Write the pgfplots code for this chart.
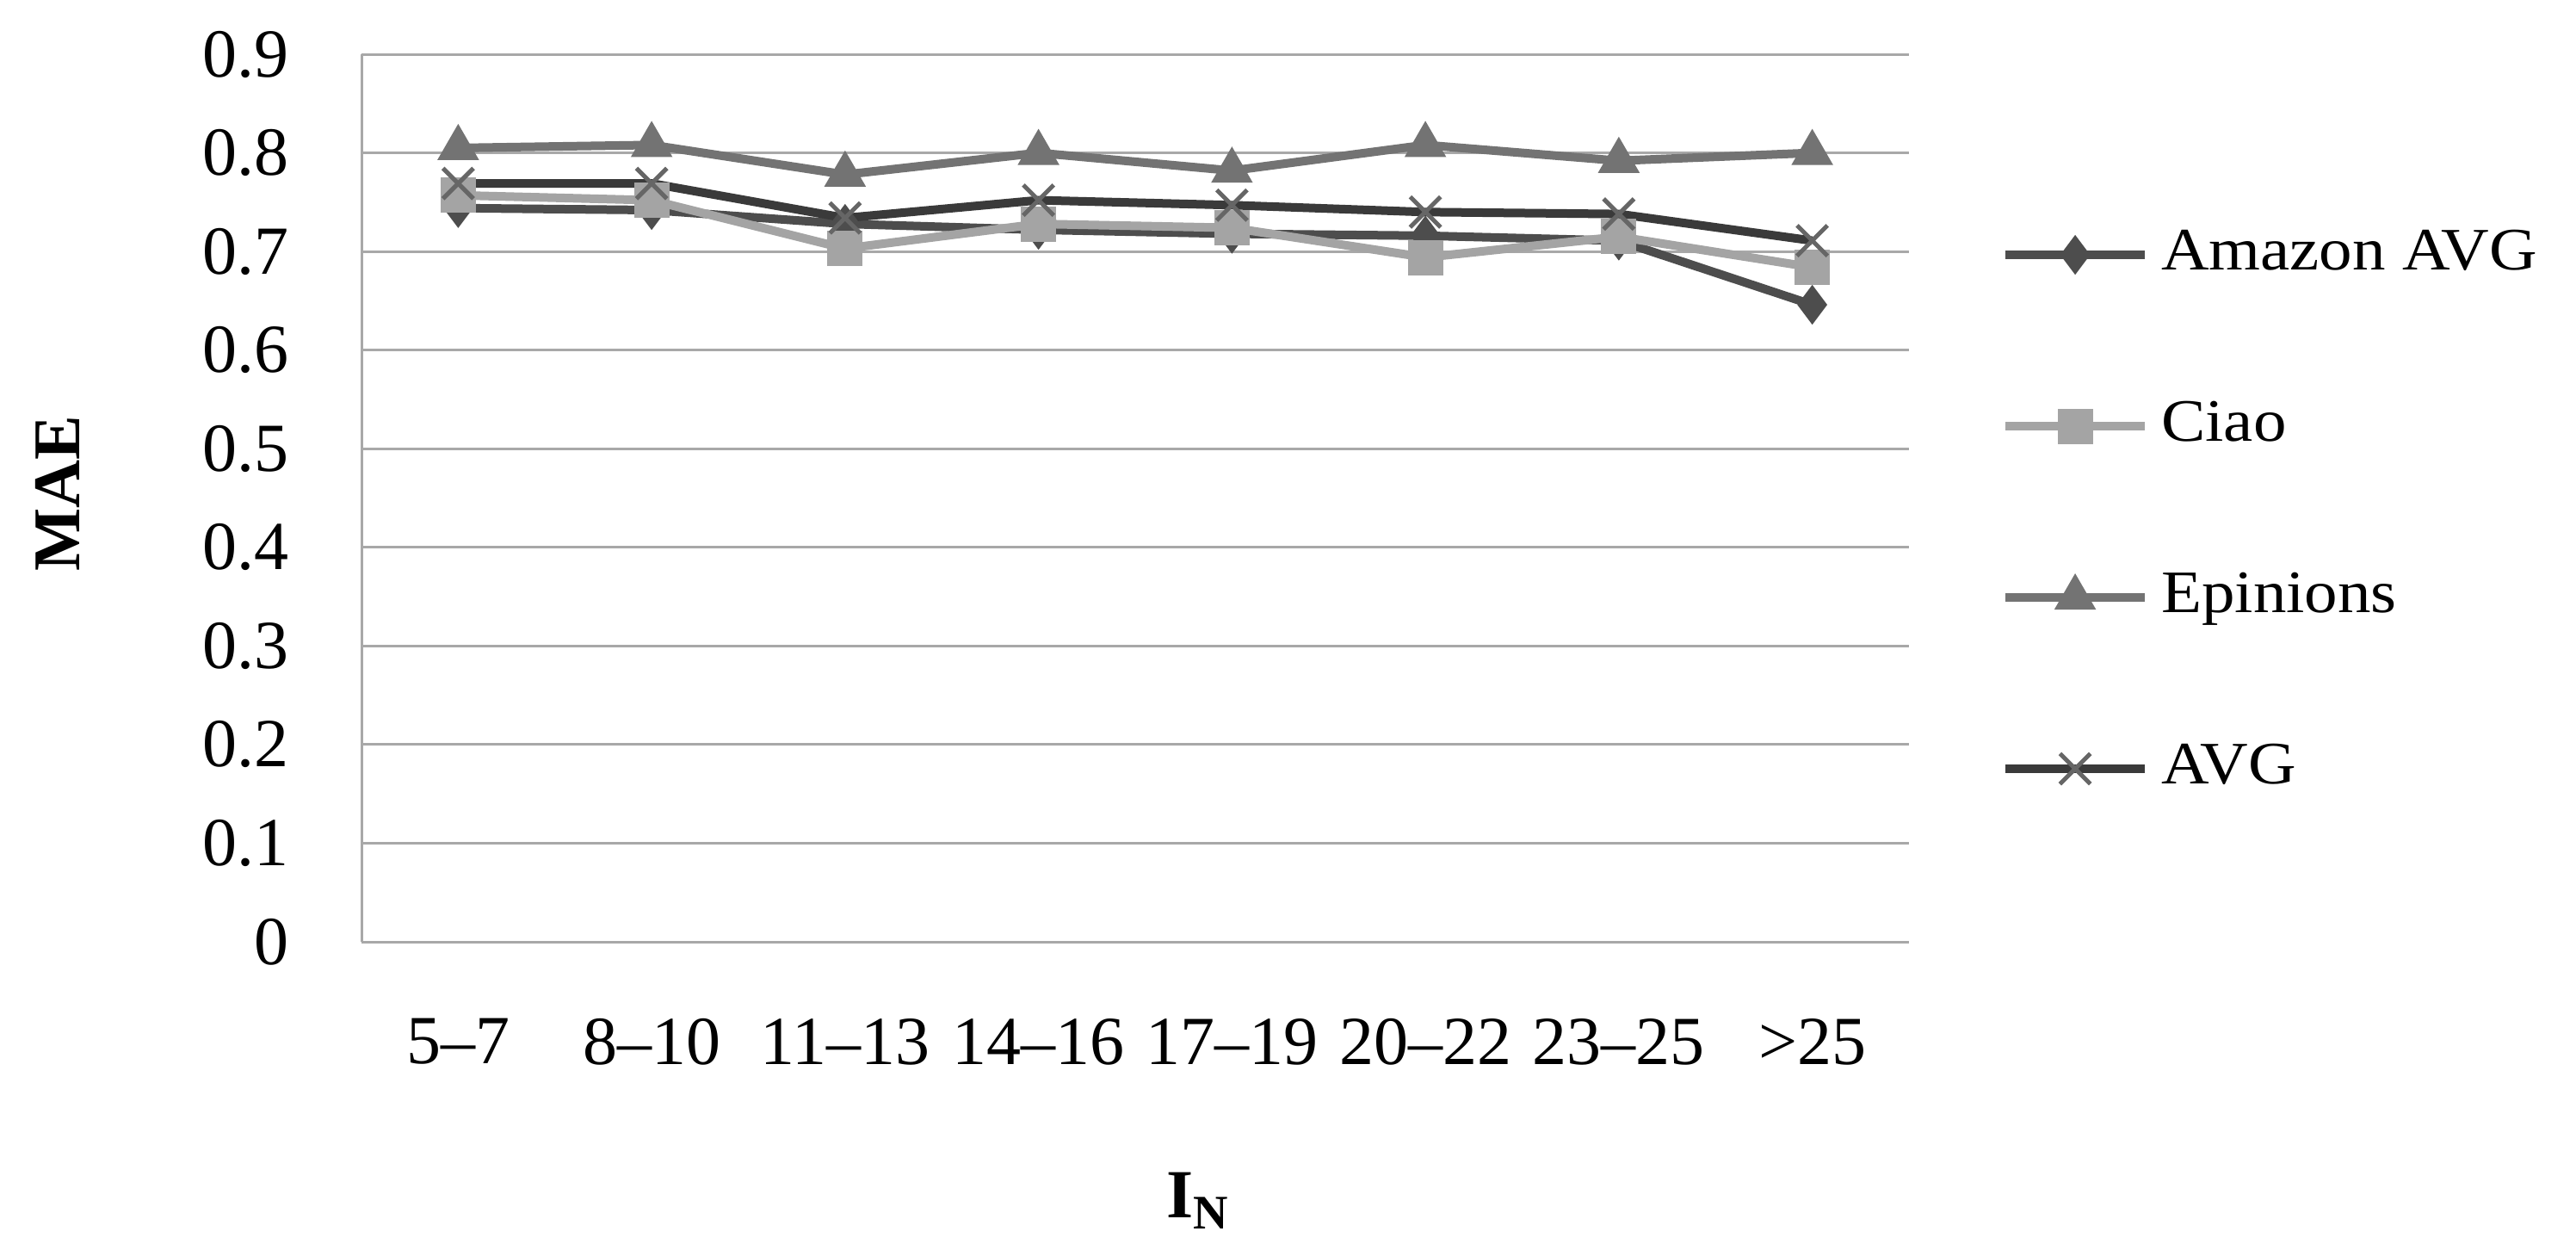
\documentclass[border=0pt]{standalone}
\usepackage{fontspec}
\setmainfont{Liberation Serif}
\newfontfamily\legfont[FakeStretch=1.1]{Liberation Serif}
\usepackage{pgfplots}
\pgfplotsset{compat=1.18}
\definecolor{gridgray}{HTML}{A8A8A8}
\definecolor{amz}{HTML}{4D4D4D}
\definecolor{ciao}{HTML}{A4A4A4}
\definecolor{epi}{HTML}{737373}
\definecolor{avg}{HTML}{3A3A3A}
\definecolor{avgmark}{HTML}{666666}
\begin{document}
\begin{tikzpicture}
\path[use as bounding box] (0pt,0pt) rectangle (598.6pt,-290.2pt);
\begin{axis}[
  at={(84pt,-218.8pt)}, anchor=south west,
  scale only axis, width=359.6pt, height=206.2pt,
  xmin=-0.5, xmax=7.5, ymin=0, ymax=0.9,
  xtick={0,1,2,3,4,5,6,7},
  xticklabels={5–7,8–10,11–13,14–16,17–19,20–22,23–25,>25},
  ytick={0,0.1,0.2,0.3,0.4,0.5,0.6,0.7,0.8,0.9},
  yticklabels={0,0.1,0.2,0.3,0.4,0.5,0.6,0.7,0.8,0.9},
  axis x line*=bottom, axis y line*=left,
  axis line style={gridgray, line width=0.6pt, -},
  ymajorgrids, grid style={gridgray, line width=0.6pt},
  major tick length=0pt, tick style={draw=none},
  tick label style={font=\fontsize{16}{18}\selectfont},
  yticklabel style={anchor=east, inner sep=0pt, xshift=-16.6pt},
  xticklabel style={anchor=north, inner sep=0pt, yshift=-17.6pt},
  xlabel={\textbf{I}\textsubscript{\textbf{N}}},
  xlabel style={at={(axis description cs:0.541,-0.311)}, anchor=base, font=\fontsize{16}{18}\selectfont},
  ylabel={\textbf{MAE}},
  ylabel style={at={(axis description cs:-0.1963,0.505)}, anchor=center, font=\fontsize{15.5}{18}\selectfont},
  clip=false,
  legend style={at={(axis description cs:1.0590,0.8065)}, anchor=north west, draw=none, fill=none,
    inner sep=0pt, row sep=26.8pt, column sep=2.8pt,
    font=\legfont\fontsize{14}{16}\selectfont,
    nodes={inner sep=0pt, text height=10pt, text depth=3pt}},
  legend cell align=left,
  legend image code/.code={\draw[mark repeat=2,mark phase=2] plot coordinates {(0pt,0pt) (16.2pt,0pt) (32.4pt,0pt)};},
]
\addplot[amz, line width=2pt, mark=diamond*, mark size=4.3pt, mark options={solid, line width=0.4pt, fill=amz, draw=amz}]
  coordinates {(0,0.744) (1,0.742) (2,0.728) (3,0.722) (4,0.718) (5,0.716) (6,0.711) (7,0.646)};
\addlegendentry{Amazon AVG}
\addplot[ciao, line width=2pt, mark=square*, mark size=3.9pt, mark options={solid, line width=0.4pt, fill=ciao, draw=ciao}]
  coordinates {(0,0.757) (1,0.752) (2,0.703) (3,0.728) (4,0.724) (5,0.694) (6,0.715) (7,0.684)};
\addlegendentry{Ciao}
\addplot[epi, line width=2pt, mark=triangle*, mark size=5.2pt, mark options={solid, line width=0.4pt, fill=epi, draw=epi}]
  coordinates {(0,0.805) (1,0.808) (2,0.778) (3,0.800) (4,0.782) (5,0.808) (6,0.792) (7,0.800)};
\addlegendentry{Epinions}
\addplot[avg, line width=2pt, mark=x, mark size=5pt, mark options={solid, line width=1pt, draw=avgmark}]
  coordinates {(0,0.769) (1,0.769) (2,0.734) (3,0.752) (4,0.747) (5,0.740) (6,0.738) (7,0.711)};
\addlegendentry{AVG}
\end{axis}
\end{tikzpicture}
\end{document}
